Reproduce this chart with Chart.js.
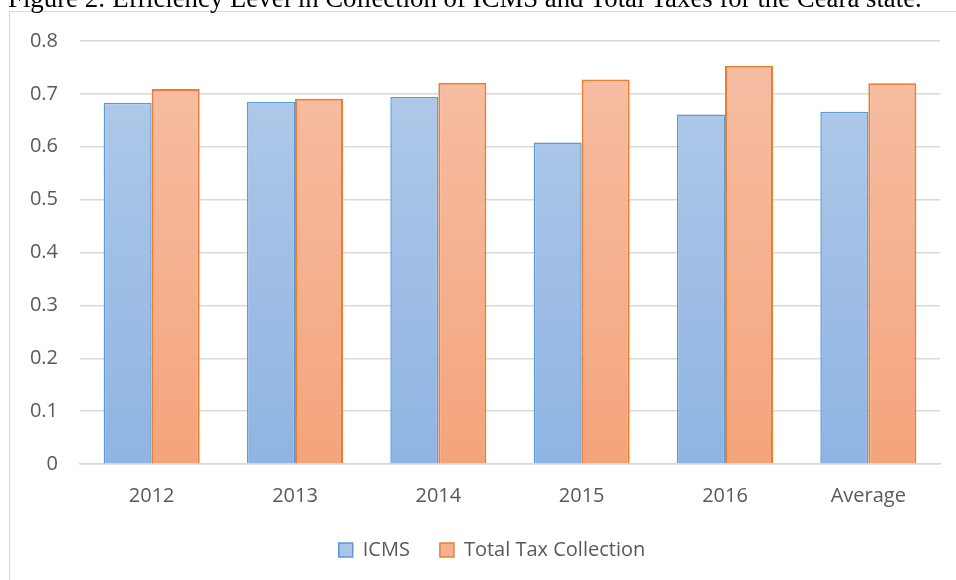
<!DOCTYPE html>
<html>
<head>
<meta charset="utf-8">
<script src="https://cdn.jsdelivr.net/npm/chart.js@4"></script>
<style>
  html, body { margin: 0; padding: 0; background: #fff; overflow: hidden; }
  #wrap { position: relative; width: 956px; height: 580px; }
  #title {
    position: absolute; left: 8px; top: -15px; white-space: nowrap; line-height: 1;
    font-family: "Liberation Serif", serif; font-size: 26.8px; color: #000;
  }
  canvas { position: absolute; left: 0; top: 0; }
</style>
</head>
<body>
<div id="wrap">
  <canvas id="chart" width="956" height="580"></canvas>
  <div id="title">Figure 2: Efficiency Level in Collection of ICMS and Total Taxes for the Ceara state.</div>
</div>
<script>
// data
const categories = ["2012", "2013", "2014", "2015", "2016", "Average"];
const icms = [0.683, 0.685, 0.694, 0.608, 0.661, 0.666];
const totalTax = [0.709, 0.691, 0.721, 0.727, 0.753, 0.720];
const yTicks = [0, 0.1, 0.2, 0.3, 0.4, 0.5, 0.6, 0.7, 0.8];

const textGray = "#595959";
const labelFont = { family: "Open Sans", size: 20 };

function gradient(ctx, top, bottom) {
  const area = ctx.chart.chartArea;
  if (!area) return bottom;
  const g = ctx.chart.ctx.createLinearGradient(0, area.top, 0, area.bottom);
  g.addColorStop(0, top);
  g.addColorStop(1, bottom);
  return g;
}

// light grey frame around the chart, like the Excel chart border
// + nudge the legend a bit to the right
const framePlugin = {
  id: "frame",
  afterLayout(chart) {
    chart.legend.left += 22;
    chart.legend.right += 22;
  },
  beforeDraw(chart) {
    const c = chart.ctx;
    c.save();
    c.strokeStyle = "#d9d9d9";
    c.lineWidth = 1;
    c.strokeRect(9.5, 11.5, 1000, 1000);
    c.restore();
  }
};

const ctx = document.getElementById("chart").getContext("2d");
new Chart(ctx, {
  type: "bar",
  data: {
    labels: categories,
    datasets: [
      {
        label: "ICMS",
        data: icms,
        backgroundColor: (c) => gradient(c, "#b2cbe9", "#8fb4e3"),
        borderColor: "#5b9bd5",
        borderWidth: 1.5,
        legendFill: "#a9c6ea"
      },
      {
        label: "Total Tax Collection",
        data: totalTax,
        backgroundColor: (c) => gradient(c, "#f7bfa6", "#f4a47b"),
        borderColor: "#ed7d31",
        borderWidth: 2,
        legendFill: "#f6b28f"
      }
    ]
  },
  options: {
    responsive: false,
    animation: false,
    layout: { padding: { left: 0, right: 16, top: 41, bottom: 10 } },
    datasets: {
      bar: { barPercentage: 1, categoryPercentage: 0.67, borderSkipped: "bottom" }
    },
    scales: {
      x: {
        afterFit(scale) { scale.height = scale.height - 10; },
        grid: { display: false },
        border: { color: "#d9d9d9", width: 1.5 },
        ticks: { color: textGray, font: labelFont, padding: 12 }
      },
      y: {
        min: 0,
        max: 0.8,
        afterFit(scale) { scale.width = 80; },
        afterBuildTicks(scale) { scale.ticks = yTicks.map(v => ({ value: v })); },
        grid: { color: "#d9d9d9", lineWidth: 1.5, drawTicks: false },
        border: { display: false },
        ticks: {
          color: textGray,
          font: labelFont,
          padding: 22,
          callback: (v) => String(v)
        }
      }
    },
    plugins: {
      tooltip: { enabled: false },
      legend: {
        position: "bottom",
        labels: {
          color: textGray,
          font: labelFont,
          boxWidth: 14,
          boxHeight: 14,
          padding: 30,
          generateLabels(chart) {
            return chart.data.datasets.map((ds, i) => ({
              text: ds.label,
              fillStyle: ds.legendFill,
              strokeStyle: ds.borderColor,
              lineWidth: 1.5,
              fontColor: textGray,
              datasetIndex: i
            }));
          }
        }
      }
    }
  },
  plugins: [framePlugin]
});
</script>
</body>
</html>
